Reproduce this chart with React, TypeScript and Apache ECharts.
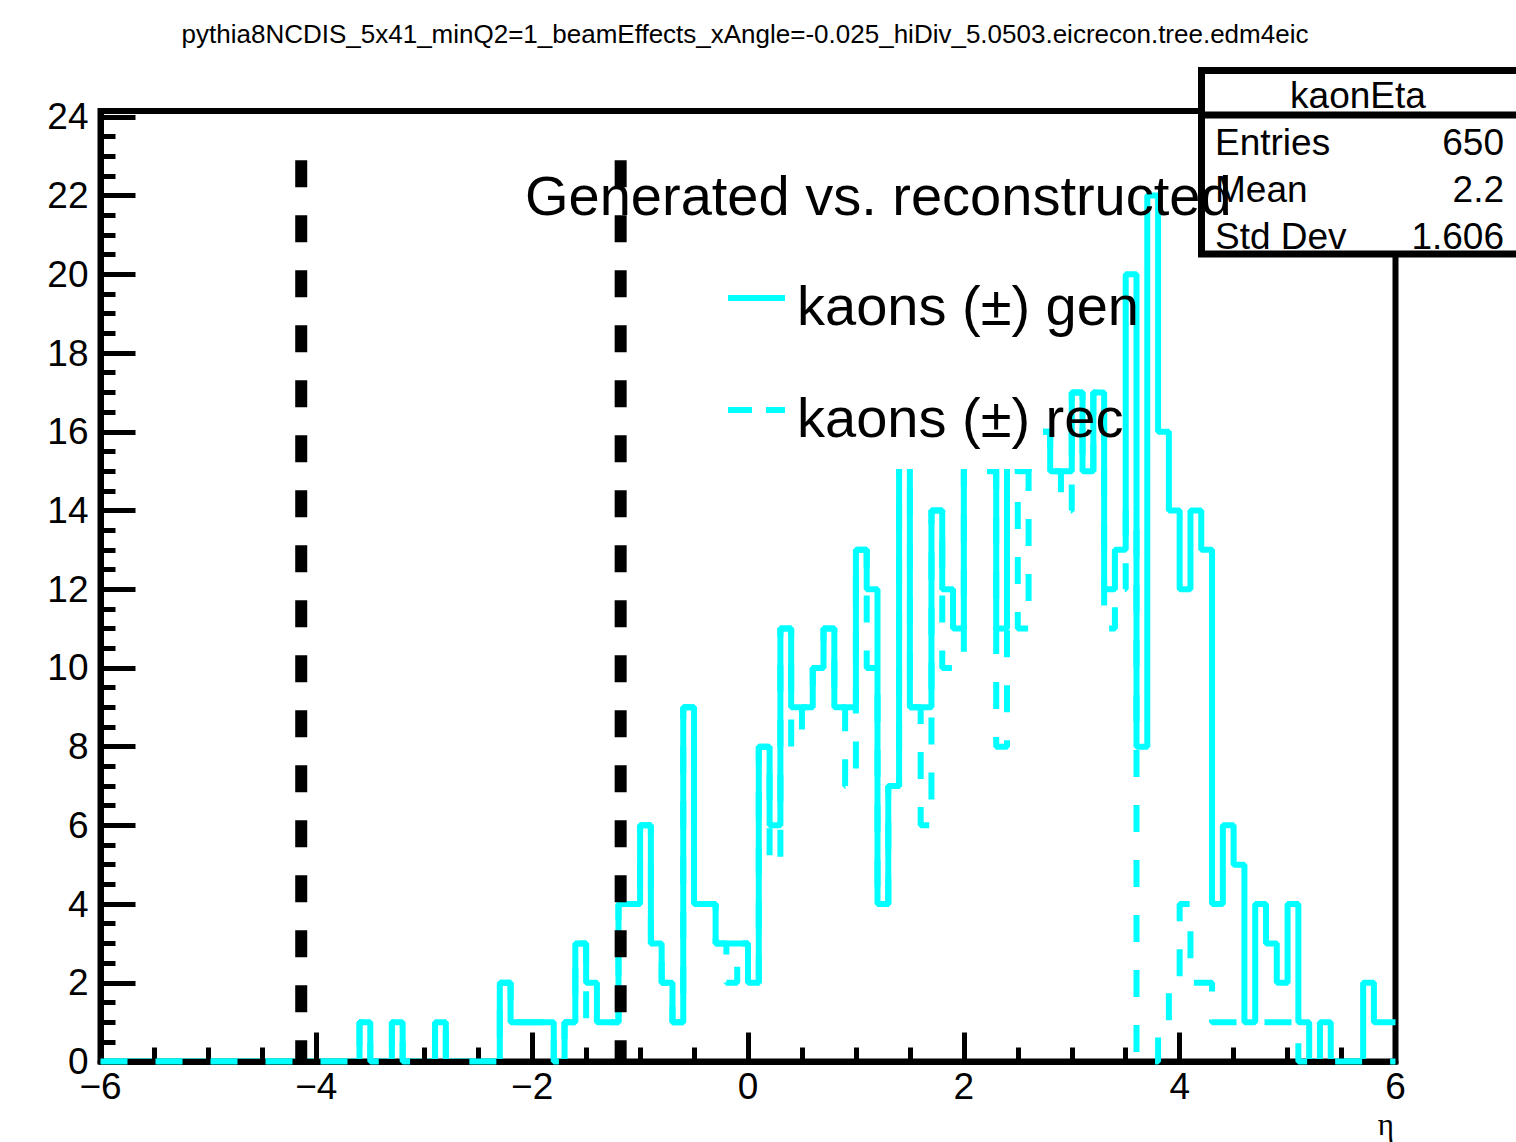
import React, { useEffect, useRef } from "react";
import * as echarts from "echarts";

// ---- data ----
const xMin = -6;
const xMax = 6;
const binWidth = 0.1;

// kaons (±) gen, 120 bins of 0.1 in eta from -6 to 6
const genCounts = [
  0, 0, 0, 0, 0, 0, 0, 0, 0, 0,
  0, 0, 0, 0, 0, 0, 0, 0, 0, 0,
  0, 0, 0, 0, 1, 0, 0, 1, 0, 0,
  0, 1, 0, 0, 0, 0, 0, 2, 1, 1,
  1, 1, 0, 1, 3, 2, 1, 1, 4, 4,
  6, 3, 2, 1, 9, 4, 4, 3, 3, 3,
  2, 8, 6, 11, 9, 9, 10, 11, 9, 9,
  13, 12, 4, 7, 17, 9, 9, 14, 12, 11,
  18, 19, 16, 11, 19, 15, 23, 16, 15, 15,
  17, 15, 17, 12, 13, 20, 8, 22, 16, 14,
  12, 14, 13, 4, 6, 5, 1, 4, 3, 2,
  4, 1, 0, 1, 0, 0, 0, 2, 1, 1,
];

// kaons (±) rec
const recCounts = [
  0, 0, 0, 0, 0, 0, 0, 0, 0, 0,
  0, 0, 0, 0, 0, 0, 0, 0, 0, 0,
  0, 0, 0, 0, 1, 0, 0, 1, 0, 0,
  0, 1, 0, 0, 0, 0, 0, 2, 1, 1,
  1, 1, 0, 1, 3, 1, 1, 1, 4, 4,
  6, 3, 2, 1, 9, 4, 4, 3, 2, 3,
  2, 8, 5, 11, 8, 9, 10, 11, 9, 7,
  13, 10, 4, 7, 16, 9, 6, 14, 10, 10,
  17, 18, 15, 8, 17, 11, 20, 16, 15, 14,
  17, 15, 17, 11, 12, 14, 0, 0, 1, 2,
  4, 2, 2, 1, 1, 1, 1, 1, 1, 1,
  1, 0, 0, 0, 0, 0, 0, 0, 0, 0,
];

const cutEtas = [-4.14, -1.18];
const cutTop = 22.9;

const pageTitle =
  "pythia8NCDIS_5x41_minQ2=1_beamEffects_xAngle=-0.025_hiDiv_5.0503.eicrecon.tree.edm4eic";
const legendHeader = "Generated vs. reconstructed";
const legendLabels = ["kaons (\u00b1) gen", "kaons (\u00b1) rec"];
const statsTitle = "kaonEta";
const statsLabels = ["Entries", "Mean", "Std Dev"];
const statsValues = ["650", "2.2", "1.606"];
const xTitle = "\u03b7";

// ---- styling ----
const FONT = "'Liberation Sans', Arial, Helvetica, sans-serif";
const CYAN = "#00ffff";

function toSteps(counts: number[]) {
  const pts: number[][] = counts.map((v, i) => [
    Math.round((xMin + i * binWidth) * 1000) / 1000,
    v,
  ]);
  pts.push([xMax, counts[counts.length - 1]]);
  return pts;
}

function txt(
  text: string,
  x: number,
  y: number,
  size: number,
  align: string,
  z: number,
  family: string = FONT
) {
  return {
    type: "text",
    x,
    y,
    z,
    silent: true,
    style: {
      text,
      fontSize: size,
      fontFamily: family,
      fill: "#000",
      align,
      verticalAlign: "middle",
      textAlign: align,
      textVerticalAlign: "middle",
    },
  };
}

export default function App() {
  const ref = useRef<HTMLDivElement>(null);

  useEffect(() => {
    if (!ref.current) return;
    const chart = echarts.init(ref.current, null, { renderer: "svg" });

    const cutSeries = cutEtas.map((eta) => ({
      type: "line",
      data: [
        [eta, cutTop],
        [eta, 0],
      ],
      showSymbol: false,
      symbol: "none",
      clip: false,
      silent: true,
      z: 5,
      lineStyle: { color: "#000", width: 12, type: [27, 28] },
    }));

    const option: any = {
      animation: false,
      backgroundColor: "#fff",
      grid: {
        left: 100.5,
        right: 120.5,
        top: 111,
        bottom: 80.5,
        show: true,
        borderColor: "#000",
        borderWidth: 6,
        backgroundColor: "transparent",
      },
      xAxis: {
        type: "value",
        min: xMin,
        max: xMax,
        interval: 2,
        z: 3,
        axisLine: { show: true, onZero: false, lineStyle: { color: "#000", width: 6 } },
        axisTick: { show: true, inside: true, length: 29, lineStyle: { color: "#000", width: 5 } },
        minorTick: { show: true, splitNumber: 4, length: 14, lineStyle: { color: "#000", width: 5 } },
        splitLine: { show: false },
        minorSplitLine: { show: false },
        axisLabel: {
          color: "#000",
          fontSize: 37,
          fontFamily: FONT,
          margin: 6,
          formatter: (v: number) => String(v).replace("-", "\u2212"),
        },
      },
      yAxis: {
        type: "value",
        min: 0,
        max: 24.15,
        interval: 2,
        z: 3,
        axisLine: { show: true, onZero: false, lineStyle: { color: "#000", width: 6 } },
        axisTick: { show: true, inside: true, length: 35, lineStyle: { color: "#000", width: 5 } },
        minorTick: { show: true, splitNumber: 4, length: 15, lineStyle: { color: "#000", width: 5 } },
        splitLine: { show: false },
        minorSplitLine: { show: false },
        axisLabel: {
          color: "#000",
          fontSize: 37,
          fontFamily: FONT,
          margin: 12,
          showMaxLabel: false,
        },
      },
      series: [
        {
          name: legendLabels[0],
          type: "line",
          step: "end",
          data: toSteps(genCounts),
          showSymbol: false,
          symbol: "none",
          clip: false,
          silent: true,
          z: 2,
          lineStyle: { color: CYAN, width: 6 },
        },
        {
          name: legendLabels[1],
          type: "line",
          step: "end",
          data: toSteps(recCounts),
          showSymbol: false,
          symbol: "none",
          clip: false,
          silent: true,
          z: 4,
          lineStyle: { color: CYAN, width: 6, type: [27, 28] },
        },
        ...cutSeries,
      ],
      graphic: [
        // page title
        txt(pageTitle, 745, 34, 26, "center", 11),
        // legend box (white fill, no border)
        {
          type: "rect",
          z: 10,
          silent: true,
          shape: { x: 716, y: 140, width: 327, height: 329 },
          style: { fill: "#fff", stroke: null },
        },
        {
          type: "line",
          z: 11,
          silent: true,
          shape: { x1: 728, y1: 298, x2: 785, y2: 298 },
          style: { stroke: CYAN, lineWidth: 6 },
        },
        {
          type: "line",
          z: 11,
          silent: true,
          shape: { x1: 728, y1: 410, x2: 785, y2: 410 },
          style: { stroke: CYAN, lineWidth: 6, lineDash: [24, 14] },
        },
        txt(legendLabels[0], 797, 305, 56, "left", 12),
        txt(legendLabels[1], 797, 417, 56, "left", 12),
        // stats box
        {
          type: "rect",
          z: 10,
          silent: true,
          shape: { x: 1201.5, y: 70.5, width: 330, height: 183.5 },
          style: { fill: "#fff", stroke: "#000", lineWidth: 7 },
        },
        {
          type: "line",
          z: 10,
          silent: true,
          shape: { x1: 1201.5, y1: 115, x2: 1516, y2: 115 },
          style: { stroke: "#000", lineWidth: 7 },
        },
        txt(statsTitle, 1358, 95, 37, "center", 11),
        ...statsLabels.map((s, i) => txt(s, 1215, 142 + i * 47, 37, "left", 11)),
        ...statsValues.map((s, i) => txt(s, 1504, 142 + i * 47, 37, "right", 11)),
        // legend header (drawn over the stats box like the original)
        txt(legendHeader, 525, 195, 56, "left", 12),
        // x axis title
        txt(xTitle, 1394, 1124, 31, "right", 11, "'Liberation Serif', 'DejaVu Serif', serif"),
      ],
    };

    chart.setOption(option);
    return () => chart.dispose();
  }, []);

  return (
    <div
      ref={ref}
      style={{
        position: "fixed",
        left: 0,
        top: 0,
        width: "1516px",
        height: "1142px",
        background: "#fff",
      }}
    />
  );
}
